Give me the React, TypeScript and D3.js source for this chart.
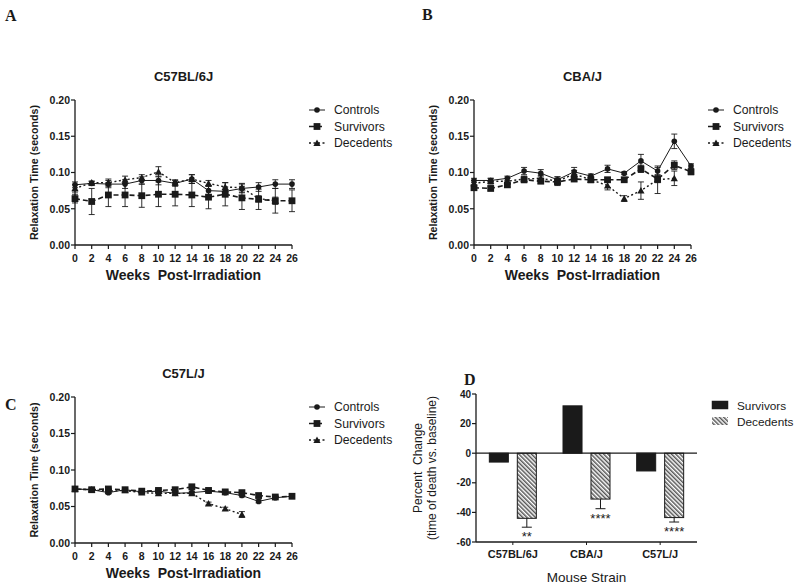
import React from "react";
import * as d3 from "d3";

// ---------- DATA ----------
const weeks = [0, 2, 4, 6, 8, 10, 12, 14, 16, 18, 20, 22, 24, 26];
const seriesNames = ["Controls", "Survivors", "Decedents"];
const yTicksLine = [0, 0.05, 0.1, 0.15, 0.2];

// Panel A: C57BL/6J
const aControls = [0.083, 0.085, 0.084, 0.084, 0.089, 0.089, 0.085, 0.091, 0.075, 0.074, 0.078, 0.080, 0.084, 0.084];
const aControlsErr = [0.004, 0.003, 0.005, 0.006, 0.005, 0.006, 0.004, 0.006, 0.006, 0.006, 0.006, 0.006, 0.006, 0.006];
const aSurvivors = [0.064, 0.060, 0.069, 0.069, 0.068, 0.070, 0.070, 0.069, 0.066, 0.070, 0.065, 0.063, 0.061, 0.061];
const aSurvivorsErr = [0.006, 0.018, 0.016, 0.016, 0.016, 0.017, 0.016, 0.016, 0.016, 0.016, 0.016, 0.014, 0.017, 0.015];
const aDecedents = [0.078, 0.086, 0.086, 0.090, 0.093, 0.101, 0.086, 0.091, 0.085, 0.080, 0.079, 0.064, 0.061];
const aDecedentsErr = [0.005, 0.002, 0.005, 0.005, 0.004, 0.007, 0.004, 0.006, 0.004, 0.006, 0.006, 0.004, 0.005];

// Panel B: CBA/J
const bControls = [0.089, 0.089, 0.092, 0.102, 0.099, 0.090, 0.101, 0.095, 0.105, 0.099, 0.116, 0.102, 0.143, 0.109];
const bControlsErr = [0.003, 0.003, 0.003, 0.005, 0.005, 0.004, 0.006, 0.003, 0.005, 0.002, 0.009, 0.005, 0.010, 0.003];
const bSurvivors = [0.079, 0.078, 0.083, 0.090, 0.088, 0.087, 0.091, 0.090, 0.090, 0.090, 0.105, 0.091, 0.110, 0.101];
const bSurvivorsErr = [0.003, 0.002, 0.003, 0.004, 0.003, 0.003, 0.003, 0.003, 0.003, 0.002, 0.005, 0.005, 0.006, 0.004];
const bDecedents = [0.085, 0.088, 0.088, 0.091, 0.092, 0.088, 0.098, 0.090, 0.082, 0.064, 0.075, 0.090, 0.092];
const bDecedentsErr = [0.004, 0.004, 0.004, 0.004, 0.004, 0.006, 0.005, 0.004, 0.006, 0.004, 0.012, 0.019, 0.010];

// Panel C: C57L/J
const cControls = [0.074, 0.073, 0.069, 0.073, 0.070, 0.071, 0.068, 0.069, 0.071, 0.069, 0.065, 0.057, 0.062, 0.064];
const cControlsErr = [0.002, 0.002, 0.002, 0.002, 0.002, 0.002, 0.002, 0.002, 0.002, 0.002, 0.002, 0.002, 0.002, 0.002];
const cSurvivors = [0.074, 0.073, 0.074, 0.073, 0.071, 0.072, 0.073, 0.077, 0.072, 0.070, 0.069, 0.065, 0.063, 0.064];
const cSurvivorsErr = [0.002, 0.002, 0.002, 0.002, 0.002, 0.002, 0.002, 0.002, 0.002, 0.002, 0.002, 0.002, 0.002, 0.002];
const cDecedents = [0.074, 0.073, 0.071, 0.072, 0.069, 0.068, 0.068, 0.068, 0.054, 0.047, 0.039];
const cDecedentsErr = [0.002, 0.002, 0.002, 0.002, 0.002, 0.002, 0.002, 0.002, 0.002, 0.002, 0.004];

// Panel D: percent change
const strains = ["C57BL/6J", "CBA/J", "C57L/J"];
const barSeries = ["Survivors", "Decedents"];
const survivorsPct = [-6, 32, -12];
const decedentsPct = [-44, -31, -43.5];
const decedentsPctErr = [6, 6.5, 3];
const significance = ["**", "****", "****"];
const yTicksBar = [-60, -40, -20, 0, 20, 40];

// ---------- STYLE ----------
const INK = "#1a1a1a";
const SANS = "'Liberation Sans', Arial, sans-serif";
const SERIF = "'Liberation Serif', 'Times New Roman', serif";

type SeriesDef = { name: string; values: number[]; errs: number[] };

function Marker({ kind, x, y }: { kind: number; x: number; y: number }) {
  if (kind === 0) return <circle cx={x} cy={y} r={2.8} fill={INK} />;
  if (kind === 1) return <rect x={x - 3.4} y={y - 3.4} width={6.8} height={6.8} fill={INK} />;
  const s = 3.6;
  return (
    <path
      d={`M${x},${y - s}L${x + s},${y + s * 0.8}L${x - s},${y + s * 0.8}Z`}
      fill={INK}
    />
  );
}

const dashes = [undefined, "5,3", "2,2.5"];
const widths = [1, 1.6, 1.4];

function LinePanel({
  left, top, bottom, width, title, series, letter, letterX, letterY,
}: {
  left: number; top: number; bottom: number; width: number; title: string;
  series: SeriesDef[]; letter: string; letterX: number; letterY: number;
}) {
  const x = d3.scaleLinear().domain([0, 26]).range([left, left + width]);
  const y = d3.scaleLinear().domain([0, 0.2]).range([bottom, top]);
  const cx = left + width / 2;
  return (
    <g>
      <text x={letterX} y={letterY} fontFamily={SERIF} fontWeight="bold" fontSize={16} fill={INK}>{letter}</text>
      <text x={cx} y={top - 19} textAnchor="middle" fontFamily={SANS} fontWeight="bold" fontSize={13} fill={INK}>{title}</text>
      {/* y axis */}
      <line x1={left} x2={left} y1={top} y2={bottom} stroke={INK} strokeWidth={1.3} />
      {yTicksLine.map((t) => (
        <g key={t}>
          <line x1={left - 4} x2={left} y1={y(t)} y2={y(t)} stroke={INK} strokeWidth={1.2} />
          <text x={left - 5} y={y(t) + 3.8} textAnchor="end" fontFamily={SANS} fontWeight="bold" fontSize={10.5} fill={INK}>{t.toFixed(2)}</text>
        </g>
      ))}
      <text
        transform={`translate(${left - 37},${(top + bottom) / 2}) rotate(-90)`}
        textAnchor="middle" fontFamily={SANS} fontWeight="bold" fontSize={10.7} fill={INK}
      >Relaxation Time (seconds)</text>
      {/* x axis */}
      <line x1={left} x2={left + width} y1={bottom} y2={bottom} stroke={INK} strokeWidth={1.3} />
      {weeks.map((w) => (
        <g key={w}>
          <line x1={x(w)} x2={x(w)} y1={bottom} y2={bottom + 4} stroke={INK} strokeWidth={1.2} />
          <text x={x(w)} y={bottom + 16.5} textAnchor="middle" fontFamily={SANS} fontWeight="bold" fontSize={10.5} fill={INK}>{w}</text>
        </g>
      ))}
      <text x={cx} y={bottom + 35} textAnchor="middle" fontFamily={SANS} fontWeight="bold" fontSize={14} fill={INK}>
        Weeks{"\u00a0\u00a0"}Post-Irradiation
      </text>
      {/* series */}
      {series.map((s, si) => {
        const pts = s.values.map((v, i) => [x(weeks[i]), y(v)] as [number, number]);
        const line = d3.line()(pts) || "";
        return (
          <g key={s.name}>
            <path d={line} fill="none" stroke={INK} strokeWidth={widths[si]} strokeDasharray={dashes[si]} />
            {s.values.map((v, i) => {
              const e = s.errs[i];
              const xx = x(weeks[i]);
              return (
                <g key={i}>
                  <line x1={xx} x2={xx} y1={y(v - e)} y2={y(v + e)} stroke={INK} strokeWidth={0.9} />
                  <line x1={xx - 3} x2={xx + 3} y1={y(v - e)} y2={y(v - e)} stroke={INK} strokeWidth={0.9} />
                  <line x1={xx - 3} x2={xx + 3} y1={y(v + e)} y2={y(v + e)} stroke={INK} strokeWidth={0.9} />
                  <Marker kind={si} x={xx} y={y(v)} />
                </g>
              );
            })}
          </g>
        );
      })}
      {/* legend */}
      {seriesNames.map((n, i) => {
        const ly = top + 10 + i * 16.5;
        const lx = left + width + 17;
        return (
          <g key={n}>
            <line x1={lx} x2={lx + 16} y1={ly} y2={ly} stroke={INK} strokeWidth={widths[i]} strokeDasharray={dashes[i]} />
            <Marker kind={i} x={lx + 8} y={ly} />
            <text x={lx + 25} y={ly + 4.3} fontFamily={SANS} fontSize={12.2} fill={INK}>{n}</text>
          </g>
        );
      })}
    </g>
  );
}

function BarPanel() {
  const left = 476, right = 697, top = 394, bottom = 542;
  const y = d3.scaleLinear().domain([-60, 40]).range([bottom, top]);
  const x0 = d3.scaleBand().domain(strains).range([left, right]);
  const x1 = d3.scaleBand().domain(barSeries).range([-23.5, 23.5]).paddingInner(0.32);
  const bw = x1.bandwidth();
  const center = (s: string) => (x0(s) as number) + x0.bandwidth() / 2;
  const vals = [survivorsPct, decedentsPct];
  return (
    <g>
      <defs>
        <pattern id="hatch" patternUnits="userSpaceOnUse" width={3} height={3} patternTransform="rotate(-45)">
          <rect width={3} height={3} fill="#fff" />
          <line x1={0.8} x2={0.8} y1={0} y2={3} stroke="#2a2a2a" strokeWidth={1.2} />
        </pattern>
      </defs>
      <text x={464} y={385} fontFamily={SERIF} fontWeight="bold" fontSize={16} fill={INK}>D</text>
      {/* y axis */}
      <line x1={left} x2={left} y1={top} y2={bottom} stroke={INK} strokeWidth={1.3} />
      {yTicksBar.map((t) => (
        <g key={t}>
          <line x1={left - 4} x2={left} y1={y(t)} y2={y(t)} stroke={INK} strokeWidth={1.2} />
          <text x={left - 5} y={y(t) + 3.6} textAnchor="end" fontFamily={SANS} fontWeight="bold" fontSize={10} fill={INK}>{t}</text>
        </g>
      ))}
      <text transform={`translate(${422},${(top + bottom) / 2}) rotate(-90)`} textAnchor="middle" fontFamily={SANS} fontSize={12} fill={INK}>
        Percent{"\u00a0\u00a0"}Change
      </text>
      <text transform={`translate(${436},${(top + bottom) / 2}) rotate(-90)`} textAnchor="middle" fontFamily={SANS} fontSize={12} fill={INK}>
        (time of death vs. baseline)
      </text>
      {/* bars */}
      {strains.map((s, si) => (
        <g key={s}>
          {barSeries.map((b, bi) => {
            const v = vals[bi][si];
            const bx = center(s) + (x1(b) as number);
            const y0 = y(0), yv = y(v);
            return (
              <rect key={b} x={bx} y={Math.min(y0, yv)} width={bw} height={Math.abs(yv - y0)}
                fill={bi === 0 ? INK : "url(#hatch)"} stroke={INK} strokeWidth={1} />
            );
          })}
          {(() => {
            const bx = center(s) + (x1("Decedents") as number) + bw / 2;
            const v = decedentsPct[si];
            const e = decedentsPctErr[si];
            return (
              <g>
                <line x1={bx} x2={bx} y1={y(v)} y2={y(v - e)} stroke={INK} strokeWidth={1} />
                <line x1={bx - 5} x2={bx + 5} y1={y(v - e)} y2={y(v - e)} stroke={INK} strokeWidth={1} />
                <text x={bx} y={y(v - e) + 14} textAnchor="middle" fontFamily={SANS} fontSize={13} fill={INK}>{significance[si]}</text>
              </g>
            );
          })()}
        </g>
      ))}
      {/* zero line and bottom axis */}
      <line x1={left} x2={right} y1={y(0)} y2={y(0)} stroke={INK} strokeWidth={1.3} />
      <line x1={left} x2={right} y1={bottom} y2={bottom} stroke={INK} strokeWidth={1.3} />
      {strains.map((s) => (
        <g key={s}>
          <line x1={center(s)} x2={center(s)} y1={bottom} y2={bottom + 3} stroke={INK} strokeWidth={1} />
          <text x={center(s)} y={bottom + 16} textAnchor="middle" fontFamily={SANS} fontWeight="bold" fontSize={11} fill={INK}>{s}</text>
        </g>
      ))}
      <text x={(left + right) / 2} y={582} textAnchor="middle" fontFamily={SANS} fontSize={13.5} fill={INK}>Mouse Strain</text>
      {/* legend */}
      {barSeries.map((b, i) => (
        <g key={b}>
          <rect x={712} y={401 + i * 16} width={16} height={8} fill={i === 0 ? INK : "url(#hatch)"} stroke={i === 0 ? INK : "none"} strokeWidth={0.5} />
          <text x={737} y={409.5 + i * 16} fontFamily={SANS} fontSize={11.8} fill={INK}>{b}</text>
        </g>
      ))}
    </g>
  );
}

export default function App() {
  const mk = (c: number[], ce: number[], s: number[], se: number[], d: number[], de: number[]): SeriesDef[] => [
    { name: "Controls", values: c, errs: ce },
    { name: "Survivors", values: s, errs: se },
    { name: "Decedents", values: d, errs: de },
  ];
  return (
    <svg width={800} height={587} style={{ position: "absolute", left: 0, top: 0, background: "#fff" }}>
      <rect width={800} height={587} fill="#fff" />
      <LinePanel left={75} top={100} bottom={245} width={217} title="C57BL/6J"
        series={mk(aControls, aControlsErr, aSurvivors, aSurvivorsErr, aDecedents, aDecedentsErr)}
        letter="A" letterX={5} letterY={21} />
      <LinePanel left={474} top={100} bottom={245} width={217} title="CBA/J"
        series={mk(bControls, bControlsErr, bSurvivors, bSurvivorsErr, bDecedents, bDecedentsErr)}
        letter="B" letterX={422} letterY={20} />
      <LinePanel left={75} top={397} bottom={543} width={217} title="C57L/J"
        series={mk(cControls, cControlsErr, cSurvivors, cSurvivorsErr, cDecedents, cDecedentsErr)}
        letter="C" letterX={5} letterY={410} />
      <BarPanel />
    </svg>
  );
}
